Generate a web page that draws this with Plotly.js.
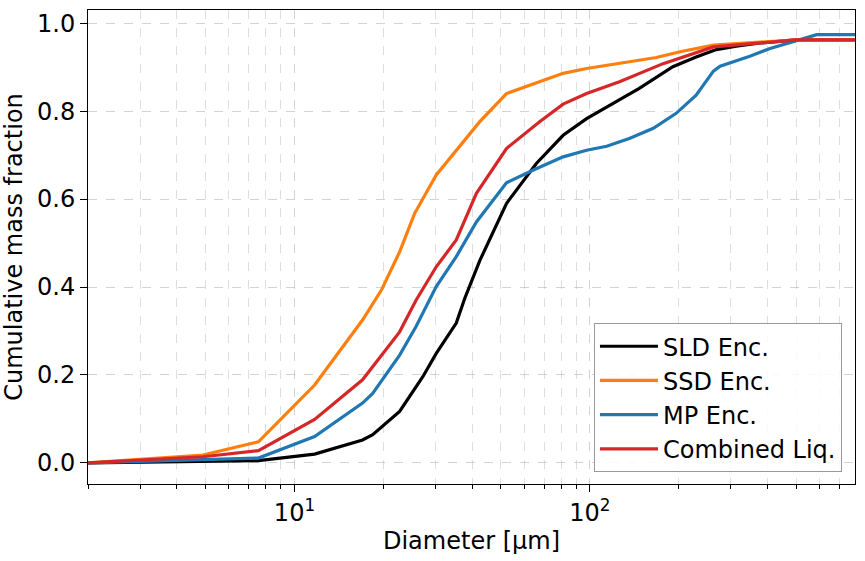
<!DOCTYPE html>
<html>
<head>
<meta charset="utf-8">
<script src="https://cdn.plot.ly/plotly-3.0.1.min.js"></script>
<style>
  html, body { margin: 0; padding: 0; background: #fff; }
  #psd { width: 865px; height: 561px; }
</style>
</head>
<body>
<div id="psd"></div>
<script>
/* SLD Enc. */
var sldD = [2, 7.55, 11.7, 17.0, 18.4, 22.7, 27.2, 30.2, 35.3, 37.7, 42.4, 52.2, 65.9, 81.2, 97.5, 126, 147, 191, 229, 268, 313, 377, 501, 790];
var sldV = [0, 0.005, 0.020, 0.052, 0.064, 0.117, 0.196, 0.249, 0.318, 0.374, 0.46, 0.590, 0.681, 0.745, 0.783, 0.825, 0.852, 0.901, 0.923, 0.940, 0.948, 0.955, 0.962, 0.962];

/* SSD Enc. */
var ssdD = [2, 4.9, 7.55, 11.7, 17.0, 19.7, 22.7, 25.5, 30.2, 35.3, 42.4, 52.2, 69.5, 81.2, 97.5, 117, 168, 202, 262, 377, 501, 790];
var ssdV = [0, 0.018, 0.048, 0.177, 0.325, 0.393, 0.48, 0.567, 0.655, 0.711, 0.776, 0.840, 0.870, 0.886, 0.897, 0.905, 0.922, 0.935, 0.950, 0.957, 0.962, 0.962];

/* MP Enc. */
var mpD = [2, 7.55, 11.7, 17.0, 18.4, 22.7, 25.8, 30.2, 35.3, 41.3, 52.2, 64.4, 81.2, 97.5, 114, 136, 164, 196, 229, 248, 262, 276, 348, 405, 501, 586, 790];
var mpV = [0, 0.011, 0.060, 0.136, 0.158, 0.245, 0.310, 0.401, 0.469, 0.548, 0.637, 0.666, 0.696, 0.711, 0.720, 0.738, 0.761, 0.795, 0.836, 0.867, 0.891, 0.902, 0.925, 0.942, 0.961, 0.974, 0.974];

/* Combined Liq. */
var liqD = [2, 4.9, 7.55, 11.7, 17.0, 18.4, 22.7, 25.8, 30.2, 35.3, 41.3, 52.2, 67.6, 81.2, 97.5, 126, 177, 262, 377, 501, 790];
var liqV = [0, 0.014, 0.028, 0.099, 0.189, 0.219, 0.298, 0.370, 0.446, 0.507, 0.613, 0.715, 0.776, 0.816, 0.840, 0.867, 0.908, 0.946, 0.956, 0.962, 0.962];

var xTicks = [10, 100];
var xTickText = ['10<sup>1</sup>', '10<sup>2</sup>'];
var xMinor = [2, 3, 4, 5, 6, 7, 8, 9, 20, 30, 40, 50, 60, 70, 80, 90, 200, 300, 400, 500, 600, 700];
var yTicks = [0, 0.2, 0.4, 0.6, 0.8, 1.0];
var yTickText = ['0.0', '0.2', '0.4', '0.6', '0.8', '1.0'];

function line(x, y, name, color){
  return {x: x, y: y, name: name, type: 'scatter', mode: 'lines',
          line: {color: color, width: 3.2}};
}

var data = [
  line(sldD, sldV, 'SLD Enc.', '#000000'),
  line(ssdD, ssdV, 'SSD Enc.', '#ff7f0e'),
  line(mpD, mpV, 'MP Enc.', '#1f77b4'),
  line(liqD, liqV, 'Combined Liq.', '#d62728')
];

var grid = 'rgba(176,176,176,0.7)';

var layout = {
  width: 865, height: 561,
  margin: {l: 88, r: 10, t: 10, b: 77},
  paper_bgcolor: '#fff', plot_bgcolor: '#fff',
  font: {family: 'DejaVu Sans', size: 24, color: '#000'},
  showlegend: true,
  legend: {
    x: 0.983, y: 0.025, xanchor: 'right', yanchor: 'bottom',
    bgcolor: 'rgba(255,255,255,0.85)', bordercolor: '#999', borderwidth: 1,
    font: {size: 24}, tracegroupgap: 0, itemwidth: 58
  },
  xaxis: {
    type: 'log',
    range: [Math.log10(2), Math.log10(790)],
    tickvals: xTicks, ticktext: xTickText,
    ticks: 'outside', ticklen: 7, tickcolor: '#000',
    showline: true, linecolor: '#000', linewidth: 1, mirror: true,
    showgrid: true, gridcolor: grid, gridwidth: 0.8, griddash: 'dash',
    zeroline: false,
    minor: {tickvals: xMinor, ticks: 'outside', ticklen: 4, tickcolor: '#000',
            showgrid: true, gridcolor: grid, gridwidth: 0.6, griddash: 'dash'},
    title: {text: 'Diameter [µm]', font: {size: 24}, standoff: 6}
  },
  yaxis: {
    range: [-0.048, 1.03],
    tickvals: yTicks, ticktext: yTickText,
    ticks: 'outside', ticklen: 7, tickcolor: '#000',
    showline: true, linecolor: '#000', linewidth: 1, mirror: true,
    showgrid: true, gridcolor: grid, gridwidth: 0.8, griddash: 'dash',
    zeroline: false,
    title: {text: 'Cumulative mass fraction', font: {size: 24}, standoff: 10}
  }
};

Plotly.newPlot('psd', data, layout, {displayModeBar: false, staticPlot: true});
</script>
</body>
</html>
